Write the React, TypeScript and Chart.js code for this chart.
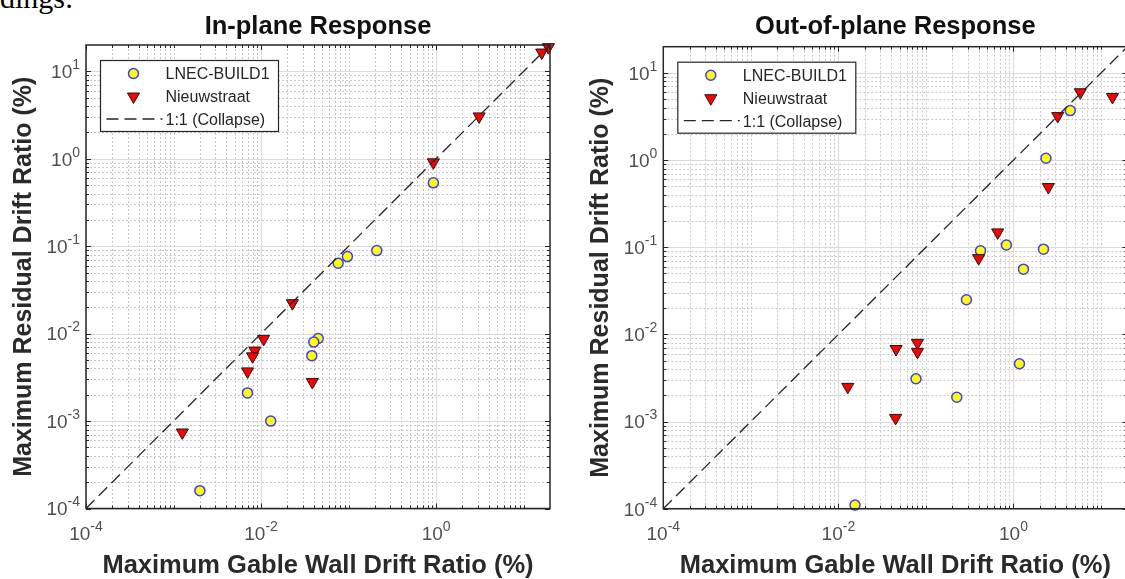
import React, { useEffect, useRef } from 'react';
import { Chart, registerables } from 'chart.js';

Chart.register(...registerables);

// Shared log-axis limits of both panels
const AXIS_MIN = 1e-4;
const AXIS_MAX = 20;

// Labelled decades on each axis
const xTickExponents = [-4, -2, 0];
const yTickExponents = [-4, -3, -2, -1, 0, 1];

const panelTitles = ['In-plane Response', 'Out-of-plane Response'];
const seriesNames = ['LNEC-BUILD1', 'Nieuwstraat', '1:1 (Collapse)'];
const xAxisTitle = 'Maximum Gable Wall Drift Ratio (%)';
const yAxisTitle = 'Maximum Residual Drift Ratio (%)';

// In-plane response (%)
const inPlaneLnecX = [0.93, 0.21, 0.097, 0.076, 0.045, 0.04, 0.038, 0.007, 0.0129, 0.002];
const inPlaneLnecY = [0.53, 0.089, 0.076, 0.064, 0.0088, 0.008, 0.0056, 0.0021, 0.001, 0.00016];
const inPlaneNieuwX = [19.2, 16.1, 3.1, 0.93, 0.0228, 0.0107, 0.0085, 0.008, 0.007, 0.0385, 0.00126];
const inPlaneNieuwY = [18.9, 16.4, 3.05, 0.91, 0.0223, 0.0087, 0.0064, 0.0055, 0.0037, 0.0028, 0.00074];

// Out-of-plane response (%)
const outPlaneLnecX = [4.45, 2.35, 0.42, 0.83, 2.2, 1.3, 0.29, 1.17, 0.077, 0.225, 0.0155];
const outPlaneLnecY = [3.7, 1.05, 0.091, 0.106, 0.095, 0.056, 0.025, 0.0046, 0.0031, 0.0019, 0.00011];
const outPlaneNieuwX = [13.5, 5.8, 3.2, 2.5, 0.66, 0.4, 0.08, 0.08, 0.0456, 0.0128, 0.045];
const outPlaneNieuwY = [5.3, 6.0, 3.2, 0.49, 0.148, 0.075, 0.008, 0.0063, 0.0068, 0.0025, 0.0011];

// 1:1 reference line end points
const collapseLine = [AXIS_MIN, AXIS_MAX];

const SANS = "'Liberation Sans', Arial, Helvetica, sans-serif";
const AXIS_COLOR = '#262626';
const LNEC_FILL = '#ffff00';
const LNEC_EDGE = '#3c3cff';
const NIEUW_FILL = '#ff0000';
const NIEUW_EDGE = '#1a1a1a';
const LINE_DASH = [12, 6];

// minor grid positions (2..9 of every decade, plus unlabelled decades on x)
const minorX: number[] = [];
const minorY: number[] = [];
for (let e = -4; e <= 1; e++) {
  for (let m = 1; m <= 9; m++) {
    const v = m * Math.pow(10, e);
    if (v <= AXIS_MIN * 1.0001 || v >= AXIS_MAX * 0.9999) continue;
    if (m === 1) {
      if (!xTickExponents.includes(e)) minorX.push(v);
    } else {
      minorX.push(v);
      minorY.push(v);
    }
  }
}

function drawPower(ctx: CanvasRenderingContext2D, exp: number, x: number, y: number, align: 'center' | 'right') {
  const base = '10';
  const sup = String(exp);
  ctx.font = `19px ${SANS}`;
  const wb = ctx.measureText(base).width;
  ctx.font = `14px ${SANS}`;
  const ws = ctx.measureText(sup).width;
  const total = wb + ws;
  const start = align === 'center' ? x - total / 2 : x - total;
  ctx.textAlign = 'left';
  ctx.textBaseline = 'alphabetic';
  ctx.font = `19px ${SANS}`;
  ctx.fillText(base, start, y);
  ctx.font = `14px ${SANS}`;
  ctx.fillText(sup, start + wb, y - 9);
}

function drawTriangle(ctx: CanvasRenderingContext2D, x: number, y: number, r: number) {
  const s = r * Math.sin(Math.PI / 3);
  ctx.beginPath();
  ctx.moveTo(x, y + r);
  ctx.lineTo(x - s, y - r / 2);
  ctx.lineTo(x + s, y - r / 2);
  ctx.closePath();
}

function makeAxesPlugin(title: string) {
  return {
    id: 'logAxesDecor',
    beforeDatasetsDraw(chart: any) {
      const { ctx, chartArea: a, scales } = chart;
      const xs = scales.x;
      const ys = scales.y;
      ctx.save();
      ctx.lineWidth = 1;
      // minor grid (dotted)
      ctx.strokeStyle = '#c8c8c8';
      ctx.setLineDash([2, 2]);
      ctx.beginPath();
      for (const v of minorX) {
        const p = Math.round(xs.getPixelForValue(v)) + 0.5;
        ctx.moveTo(p, a.top);
        ctx.lineTo(p, a.bottom);
      }
      for (const v of minorY) {
        const p = Math.round(ys.getPixelForValue(v)) + 0.5;
        ctx.moveTo(a.left, p);
        ctx.lineTo(a.right, p);
      }
      ctx.stroke();
      // major grid
      ctx.setLineDash([]);
      ctx.strokeStyle = '#dadada';
      ctx.beginPath();
      for (const e of xTickExponents) {
        const p = Math.round(xs.getPixelForValue(Math.pow(10, e))) + 0.5;
        ctx.moveTo(p, a.top);
        ctx.lineTo(p, a.bottom);
      }
      for (const e of yTickExponents) {
        const p = Math.round(ys.getPixelForValue(Math.pow(10, e))) + 0.5;
        ctx.moveTo(a.left, p);
        ctx.lineTo(a.right, p);
      }
      ctx.stroke();
      ctx.restore();
    },
    afterDatasetsDraw(chart: any) {
      const { ctx, chartArea: a, scales } = chart;
      const xs = scales.x;
      const ys = scales.y;
      ctx.save();
      // inward tick marks on all four sides
      ctx.strokeStyle = AXIS_COLOR;
      ctx.lineWidth = 1;
      ctx.beginPath();
      const xMajor = xTickExponents.map((e) => Math.pow(10, e));
      const yMajor = yTickExponents.map((e) => Math.pow(10, e));
      const xTick = (v: number, len: number) => {
        const p = Math.round(xs.getPixelForValue(v)) + 0.5;
        ctx.moveTo(p, a.bottom);
        ctx.lineTo(p, a.bottom - len);
        ctx.moveTo(p, a.top);
        ctx.lineTo(p, a.top + len);
      };
      const yTick = (v: number, len: number) => {
        const p = Math.round(ys.getPixelForValue(v)) + 0.5;
        ctx.moveTo(a.left, p);
        ctx.lineTo(a.left + len, p);
        ctx.moveTo(a.right, p);
        ctx.lineTo(a.right - len, p);
      };
      minorX.forEach((v) => xTick(v, 3));
      minorY.forEach((v) => yTick(v, 3));
      xMajor.forEach((v) => xTick(v, 5));
      yMajor.forEach((v) => yTick(v, 5));
      ctx.stroke();
      // axes box
      ctx.lineWidth = 1.5;
      ctx.strokeRect(a.left, a.top, a.right - a.left, a.bottom - a.top);

      // tick labels
      ctx.fillStyle = '#4f4f4f';
      for (const e of xTickExponents) {
        drawPower(ctx, e, xs.getPixelForValue(Math.pow(10, e)), a.bottom + 31.5, 'center');
      }
      for (const e of yTickExponents) {
        drawPower(ctx, e, a.left - 6, ys.getPixelForValue(Math.pow(10, e)) + 6.8, 'right');
      }

      // panel title and axis titles
      const cx = (a.left + a.right) / 2;
      ctx.fillStyle = '#111111';
      ctx.font = `bold 25.5px ${SANS}`;
      ctx.textAlign = 'center';
      ctx.textBaseline = 'alphabetic';
      ctx.fillText(title, cx, 34);
      ctx.fillStyle = '#2a2a2a';
      ctx.fillText(xAxisTitle, cx, 573);
      ctx.font = `bold 25px ${SANS}`;
      ctx.translate(a.left - 55, (a.top + a.bottom) / 2);
      ctx.rotate(-Math.PI / 2);
      ctx.fillText(yAxisTitle, 0, 0);
      ctx.restore();
    },
    afterDraw(chart: any) {
      const { ctx, chartArea: a } = chart;
      const bx = a.left + 14.5;
      const by = a.top + 15.5;
      const bw = 178;
      const bh = 71;
      ctx.save();
      ctx.fillStyle = '#ffffff';
      ctx.fillRect(bx, by, bw, bh);
      ctx.strokeStyle = AXIS_COLOR;
      ctx.lineWidth = 1.2;
      ctx.strokeRect(bx, by, bw, bh);
      const rows = [by + 13, by + 36, by + 58.5];
      const mx = bx + 33;
      // circle marker
      ctx.beginPath();
      ctx.arc(mx, rows[0], 5, 0, Math.PI * 2);
      ctx.fillStyle = LNEC_FILL;
      ctx.fill();
      ctx.lineWidth = 1.5;
      ctx.strokeStyle = LNEC_EDGE;
      ctx.stroke();
      // triangle marker
      drawTriangle(ctx, mx, rows[1], 7);
      ctx.fillStyle = NIEUW_FILL;
      ctx.fill();
      ctx.lineWidth = 1;
      ctx.strokeStyle = NIEUW_EDGE;
      ctx.stroke();
      // dashed line sample
      ctx.beginPath();
      ctx.setLineDash(LINE_DASH);
      ctx.strokeStyle = AXIS_COLOR;
      ctx.lineWidth = 1.3;
      ctx.moveTo(bx + 6, rows[2]);
      ctx.lineTo(bx + 62, rows[2]);
      ctx.stroke();
      ctx.setLineDash([]);
      // labels
      ctx.fillStyle = AXIS_COLOR;
      ctx.font = `16px ${SANS}`;
      ctx.textAlign = 'left';
      ctx.textBaseline = 'alphabetic';
      seriesNames.forEach((name, i) => ctx.fillText(name, bx + 65, rows[i] + 5.8));
      ctx.restore();
    },
  };
}

type PanelProps = {
  title: string;
  lnecX: number[];
  lnecY: number[];
  nieuwX: number[];
  nieuwY: number[];
  left: number;
  width: number;
  padding: { left: number; top: number; right: number; bottom: number };
};

function Panel({ title, lnecX, lnecY, nieuwX, nieuwY, left, width, padding }: PanelProps) {
  const ref = useRef<HTMLCanvasElement | null>(null);
  useEffect(() => {
    if (!ref.current) return;
    const chart = new Chart(ref.current, {
      type: 'scatter',
      data: {
        datasets: [
          {
            label: seriesNames[2],
            data: collapseLine.map((v) => ({ x: v, y: v })),
            showLine: true,
            borderColor: AXIS_COLOR,
            borderWidth: 1.3,
            borderDash: LINE_DASH,
            pointRadius: 0,
            fill: false,
            order: 0,
          } as any,
          {
            label: seriesNames[1],
            data: nieuwX.map((v, i) => ({ x: v, y: nieuwY[i] })),
            pointStyle: 'triangle',
            pointRotation: 180,
            pointRadius: 7,
            pointBackgroundColor: NIEUW_FILL,
            pointBorderColor: NIEUW_EDGE,
            pointBorderWidth: 1,
            backgroundColor: NIEUW_FILL,
            borderColor: NIEUW_EDGE,
            clip: false,
            order: 1,
          } as any,
          {
            label: seriesNames[0],
            data: lnecX.map((v, i) => ({ x: v, y: lnecY[i] })),
            pointStyle: 'circle',
            pointRadius: 5,
            pointBackgroundColor: LNEC_FILL,
            pointBorderColor: LNEC_EDGE,
            pointBorderWidth: 1.5,
            backgroundColor: LNEC_FILL,
            borderColor: LNEC_EDGE,
            clip: false,
            order: 2,
          } as any,
        ],
      },
      options: {
        animation: false,
        responsive: false,
        maintainAspectRatio: false,
        events: [],
        layout: { padding },
        plugins: {
          legend: { display: false },
          tooltip: { enabled: false },
          title: { display: false },
        },
        scales: {
          x: { type: 'logarithmic', min: AXIS_MIN, max: AXIS_MAX, display: false },
          y: { type: 'logarithmic', min: AXIS_MIN, max: AXIS_MAX, display: false },
        },
      },
      plugins: [makeAxesPlugin(title)],
    });
    return () => chart.destroy();
  }, []);
  return (
    <canvas
      ref={ref}
      width={width}
      height={579}
      style={{ position: 'absolute', left, top: 0, width, height: 579 }}
    />
  );
}

export default function App() {
  return (
    <div
      style={{
        position: 'fixed',
        left: 0,
        top: 0,
        width: 1125,
        height: 579,
        overflow: 'hidden',
        background: '#ffffff',
      }}
    >
      <span
        style={{
          position: 'absolute',
          left: 0,
          top: -17,
          fontFamily: "'Liberation Serif', 'Times New Roman', serif",
          fontSize: 30,
          lineHeight: '30px',
          color: '#000',
          whiteSpace: 'nowrap',
        }}
      >
        dings:
      </span>
      <Panel
        title={panelTitles[0]}
        lnecX={inPlaneLnecX}
        lnecY={inPlaneLnecY}
        nieuwX={inPlaneNieuwX}
        nieuwY={inPlaneNieuwY}
        left={0}
        width={570}
        padding={{ left: 86, top: 45, right: 20, bottom: 70.5 }}
      />
      <Panel
        title={panelTitles[1]}
        lnecX={outPlaneLnecX}
        lnecY={outPlaneLnecY}
        nieuwX={outPlaneNieuwX}
        nieuwY={outPlaneNieuwY}
        left={575}
        width={570}
        padding={{ left: 88.3, top: 46.7, right: 17.6, bottom: 70.3 }}
      />
    </div>
  );
}
